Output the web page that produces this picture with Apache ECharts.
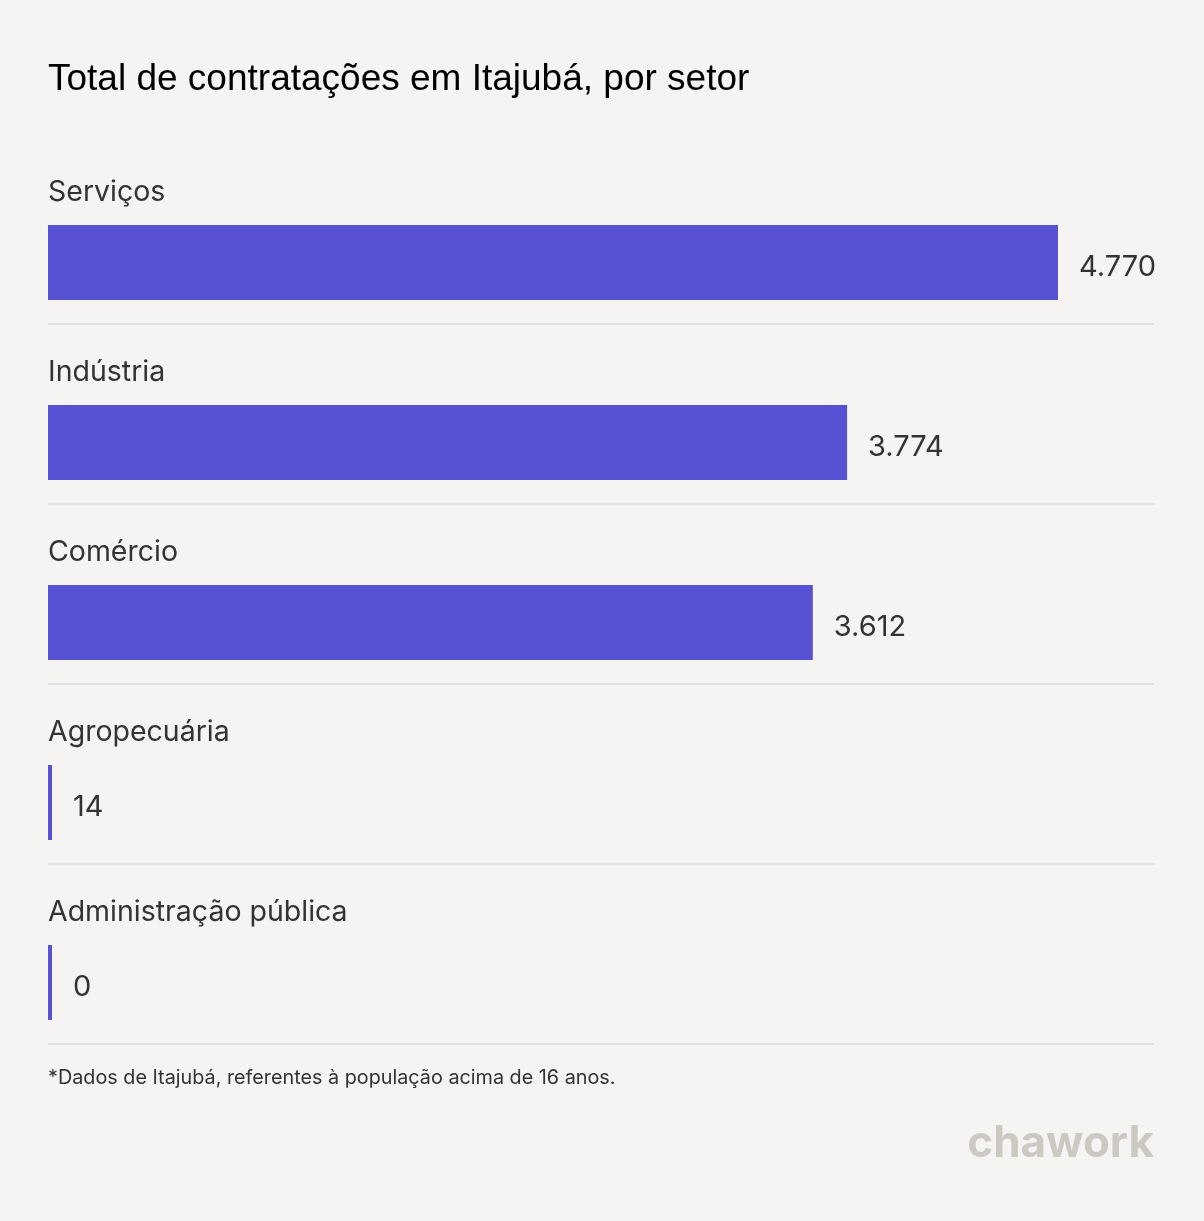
<!DOCTYPE html>
<html><head><meta charset="utf-8">
<script src="https://cdn.jsdelivr.net/npm/echarts@6/dist/echarts.min.js"></script>
<style>html,body{margin:0;padding:0;background:#F5F4F2;}#c{width:1204px;height:1221px;}</style>
</head><body><div id="c"></div>
<script>
const categories = ['Serviços', 'Indústria', 'Comércio', 'Agropecuária', 'Administração pública'];
const values = [4770, 3774, 3612, 14, 0];
const titleText = 'Total de contratações em Itajubá, por setor';
const footnote = '*Dados de Itajubá, referentes à população acima de 16 anos.';
const brand = 'chawork';

const fmt = v => v.toLocaleString('pt-BR');
const chart = echarts.init(document.getElementById('c'), null, {renderer: 'canvas'});
const maxVal = Math.max(...values);
chart.setOption({
  backgroundColor: '#F5F4F2',
  animation: false,
  title: {
    text: titleText, left: 48, top: 61, padding: 0,
    textStyle: {fontFamily: 'Liberation Sans', fontSize: 37, fontWeight: 'normal', color: '#000'}
  },
  grid: {left: 48, top: 144, width: 1106, height: 900, containLabel: false},
  xAxis: {type: 'value', min: 0, max: maxVal * 1106 / 1010, show: false},
  yAxis: {
    type: 'category', data: categories, inverse: true,
    axisLine: {show: false}, axisTick: {show: false}, axisLabel: {show: false},
    splitLine: {show: true, showMinLine: false, showMaxLine: true, lineStyle: {color: '#E3E1DE', width: 2}}
  },
  series: [
    {type: 'bar', data: values.map(() => 0), barWidth: 75, barGap: '-24%', itemStyle: {color: 'transparent'}, silent: true,
      label: {show: true, position: 'insideLeft', distance: 0, offset: [0, -13.5], formatter: p => p.name,
        fontFamily: 'Inter', fontSize: 28.5, color: '#333'}},
    {type: 'bar', data: values, barWidth: 75, barMinHeight: 4,
      itemStyle: {color: '#5751D4'},
      label: {show: true, position: 'right', distance: 21, offset: [0, 4.5], formatter: p => fmt(p.value),
        fontFamily: 'Inter', fontSize: 29, color: '#333'}}
  ],
  graphic: [
    {type: 'text', left: 48, top: 1068, style: {text: footnote, fontFamily: 'Inter', fontSize: 19.8, fill: '#333'}},
    {type: 'text', right: 50, top: 1122, style: {text: brand, fontFamily: 'Inter', fontSize: 44, fontWeight: 'bold', fill: '#CCC9C3'}}
  ]
});
</script></body></html>
